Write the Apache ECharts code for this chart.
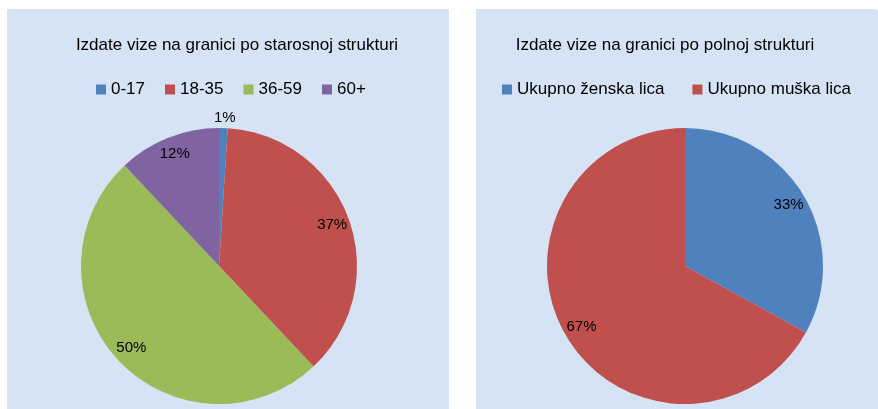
<!DOCTYPE html>
<html>
<head>
<meta charset="utf-8">
<script src="https://cdn.jsdelivr.net/npm/echarts@6/dist/echarts.min.js"></script>
<style>
  html, body { margin: 0; padding: 0; background: #fff; }
  #chart { width: 878px; height: 409px; }
</style>
</head>
<body>
<div id="chart"></div>
<script>
// podaci
const ageTitle = 'Izdate vize na granici po starosnoj strukturi';
const ageGroups = ['0-17', '18-35', '36-59', '60+'];
const ageShares = [1, 37, 50, 12];

const sexTitle = 'Izdate vize na granici po polnoj strukturi';
const sexGroups = ['Ukupno ženska lica', 'Ukupno muška lica'];
const sexShares = [33, 67];

const ageColors = ['#4f81bd', '#c0504d', '#9bbb59', '#8064a2'];
const sexColors = ['#4f81bd', '#c0504d'];
const font = '"Liberation Sans Narrow", "Liberation Sans", sans-serif';
const panelBg = '#d6e3f5';
const R = 138;

const chart = echarts.init(document.getElementById('chart'));

function toData(names, values) {
  return names.map((name, i) => ({ name, value: values[i] }));
}

function pieSeries(names, values, colors, cx) {
  const data = toData(names, values);
  return [
    {
      type: 'pie',
      center: [cx, 266],
      radius: [0, R],
      startAngle: 90,
      data: data.map((d, i) => ({ ...d, itemStyle: { color: colors[i] } })),
      label: { show: false },
      labelLine: { show: false },
      emphasis: { disabled: true },
    },
    {
      // samo natpisi, blize ivici kao u Excelu
      type: 'pie',
      center: [cx, 266],
      radius: [R * 0.7, R],
      startAngle: 90,
      silent: true,
      legendHoverLink: false,
      data: data.map((d) => ({
        ...d,
        label: d.value < 3 ? { offset: [2, -28] } : {}, // mali isecak: natpis iznad
      })),
      itemStyle: { color: 'transparent' },
      label: {
        show: true,
        position: 'inside',
        color: '#000',
        fontFamily: font,
        fontSize: 15,
        formatter: (p) => Math.round(p.percent) + '%',
      },
      labelLine: { show: false },
      emphasis: { disabled: true },
    },
  ];
}

const legendBase = {
  icon: 'rect',
  itemWidth: 10,
  itemHeight: 10,
  padding: 0,
  selectedMode: false,
  textStyle: { fontFamily: font, fontSize: 17, color: '#000' },
};

chart.setOption({
  animation: false,
  backgroundColor: '#fff',
  graphic: [
    { type: 'rect', shape: { x: 7, y: 9, width: 442, height: 420 }, style: { fill: panelBg }, z: -10 },
    { type: 'rect', shape: { x: 476, y: 9, width: 420, height: 420, r: [0, 26, 0, 0] }, style: { fill: panelBg }, z: -10 },
    {
      type: 'text', x: 237, y: 45,
      style: { text: ageTitle, fill: '#000', font: '17px ' + font, textAlign: 'center', textVerticalAlign: 'middle' },
    },
    {
      type: 'text', x: 665, y: 45,
      style: { text: sexTitle, fill: '#000', font: '17px ' + font, textAlign: 'center', textVerticalAlign: 'middle' },
    },
  ],
  legend: [
    { ...legendBase, data: ageGroups, left: 96, top: 81, itemGap: 20 },
    { ...legendBase, data: sexGroups, left: 502, top: 81, itemGap: 28 },
  ],
  series: [
    ...pieSeries(ageGroups, ageShares, ageColors, 219),
    ...pieSeries(sexGroups, sexShares, sexColors, 685),
  ],
});
</script>
</body>
</html>
